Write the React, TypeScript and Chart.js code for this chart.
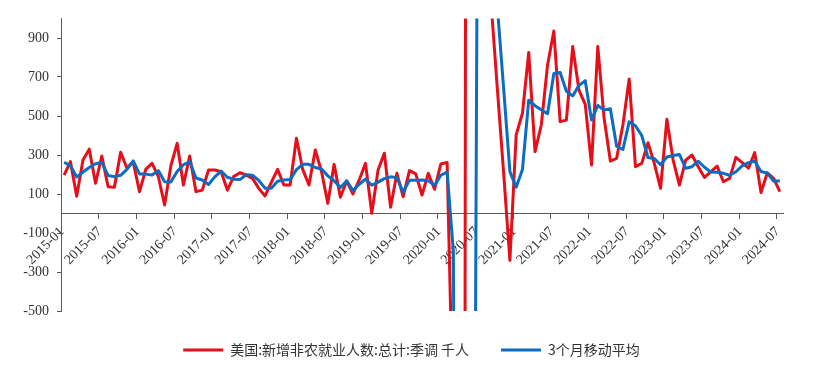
import React, { useEffect, useRef } from 'react';
import { Chart, registerables } from 'chart.js';

Chart.register(...registerables);

// Monthly categories 2015-01 .. 2024-07
const START_YEAR = 2015;
const MONTH_COUNT = 115;
const categories: string[] = [];
for (let i = 0; i < MONTH_COUNT; i++) {
  const y = START_YEAR + Math.floor(i / 12);
  const m = (i % 12) + 1;
  categories.push(`${y}-${m < 10 ? '0' + m : m}`);
}
const LABEL_EVERY = 6;

const SERIES_RED = '美国:新增非农就业人数:总计:季调 千人';
const SERIES_BLUE = '3个月移动平均';

// 美国:新增非农就业人数 (千人)
const payrolls = [
  197, 266, 88, 274, 330, 155, 295, 137, 134, 314, 232, 265,
  112, 226, 257, 190, 44, 245, 360, 146, 295, 112, 120, 223,
  223, 214, 120, 189, 209, 197, 180, 129, 90, 160, 226, 146,
  146, 386, 226, 146, 326, 214, 52, 252, 83, 167, 100, 172,
  257, 1, 223, 309, 32, 206, 86, 220, 203, 95, 206, 124,
  254, 262, -1100, -20500, 2700, 4500, 1600, 1460, 1080, 640, 210, -240,
  403, 514, 826, 317, 454, 762, 936, 471, 479, 856, 633, 560,
  249, 856, 490, 269, 283, 454, 690, 240, 257, 363, 257, 129,
  483, 274, 146, 274, 300, 240, 185, 214, 243, 163, 180, 288,
  261, 232, 312, 107, 209, 180, 112,
];

// 3个月移动平均
const movingAvg = [
  263, 245, 187, 212, 236, 255, 262, 195, 189, 196, 226, 270,
  203, 202, 197, 220, 163, 161, 215, 250, 266, 182, 172, 149,
  188, 217, 186, 176, 174, 199, 196, 170, 130, 130, 165, 172,
  174, 225, 252, 252, 236, 228, 193, 168, 133, 167, 117, 150,
  176, 145, 161, 179, 188, 184, 110, 171, 171, 172, 168, 144,
  196, 213, -195, -7110, -6300, -4430, 2930, 2520, 1380, 1060, 643, 215,
  135, 226, 581, 553, 532, 512, 718, 723, 627, 603, 657, 681,
  480, 554, 531, 537, 345, 328, 470, 450, 400, 287, 282, 250,
  290, 297, 303, 232, 240, 268, 237, 213, 211, 206, 196, 214,
  244, 261, 268, 215, 207, 167, 167,
];

const yTickValues = [-500, -300, -100, 100, 300, 500, 700, 900];
const Y_MIN = -500;
const Y_MAX = 1000;

const RED = '#E60F19';
const BLUE = '#0A6CC2';
const AXIS = '#595959';
const TEXT = '#333333';
const SERIF = '"Liberation Serif", "DejaVu Serif", serif';
const CJK = '"Noto Sans CJK SC", "Noto Sans", sans-serif';

// moves the bottom legend to the right so it sits where the original one does
const legendShift = {
  id: 'legendShift',
  afterLayout(chart: any) {
    const lg = chart.legend;
    if (lg) {
      lg.left += 20;
      lg.right += 20;
    }
  },
};

export default function App() {
  const canvasRef = useRef<HTMLCanvasElement | null>(null);

  useEffect(() => {
    const canvas = canvasRef.current;
    if (!canvas) return;
    const chart = new Chart(canvas, {
      type: 'line',
      data: {
        labels: categories,
        datasets: [
          {
            label: SERIES_RED,
            data: payrolls,
            borderColor: RED,
            backgroundColor: RED,
            borderWidth: 3,
            pointRadius: 0,
            tension: 0,
            borderJoinStyle: 'round',
            order: 1,
          },
          {
            label: SERIES_BLUE,
            data: movingAvg,
            borderColor: BLUE,
            backgroundColor: BLUE,
            borderWidth: 3,
            pointRadius: 0,
            tension: 0,
            borderJoinStyle: 'round',
            order: 0,
          },
        ],
      },
      options: {
        animation: false,
        responsive: true,
        maintainAspectRatio: false,
        layout: { padding: { left: 0, right: 30, top: 18.5, bottom: 3 } },
        plugins: {
          legend: {
            position: 'bottom',
            labels: {
              usePointStyle: true,
              pointStyle: 'line',
              pointStyleWidth: 40,
              padding: 32,
              color: TEXT,
              font: { family: CJK, size: 14 },
              sort: (a: any, b: any) => a.datasetIndex - b.datasetIndex,
            },
          },
          tooltip: { enabled: false },
        },
        scales: {
          x: {
            type: 'category',
            position: { y: 0 } as any,
            offset: true,
            grid: {
              offset: true,
              drawOnChartArea: false,
              drawTicks: true,
              tickLength: 5,
              tickWidth: 1,
              tickColor: (ctx: any) => (ctx.index % LABEL_EVERY === 0 ? AXIS : 'rgba(0,0,0,0)'),
            },
            border: { display: true, color: AXIS, width: 1 },
            ticks: {
              autoSkip: false,
              maxRotation: 45,
              minRotation: 45,
              padding: 5,
              labelOffset: -2,
              color: TEXT,
              font: { family: SERIF, size: 14 },
              callback: (_v: any, i: number) => (i % LABEL_EVERY === 0 ? categories[i] : ''),
            },
          },
          y: {
            type: 'linear',
            min: Y_MIN,
            max: Y_MAX,
            afterBuildTicks: (scale: any) => {
              scale.ticks = yTickValues.map((v) => ({ value: v }));
            },
            afterFit: (scale: any) => {
              scale.width = 61;
            },
            grid: { drawOnChartArea: false, drawTicks: true, tickLength: 4, color: AXIS },
            border: { display: true, color: AXIS, width: 1 },
            ticks: { padding: 8, color: TEXT, font: { family: SERIF, size: 14 } },
          },
        },
      } as any,
      plugins: [legendShift],
    });
    return () => chart.destroy();
  }, []);

  return (
    <div style={{ position: 'fixed', left: 0, top: 0, width: 813, height: 370, background: '#fff' }}>
      <canvas ref={canvasRef} />
    </div>
  );
}
